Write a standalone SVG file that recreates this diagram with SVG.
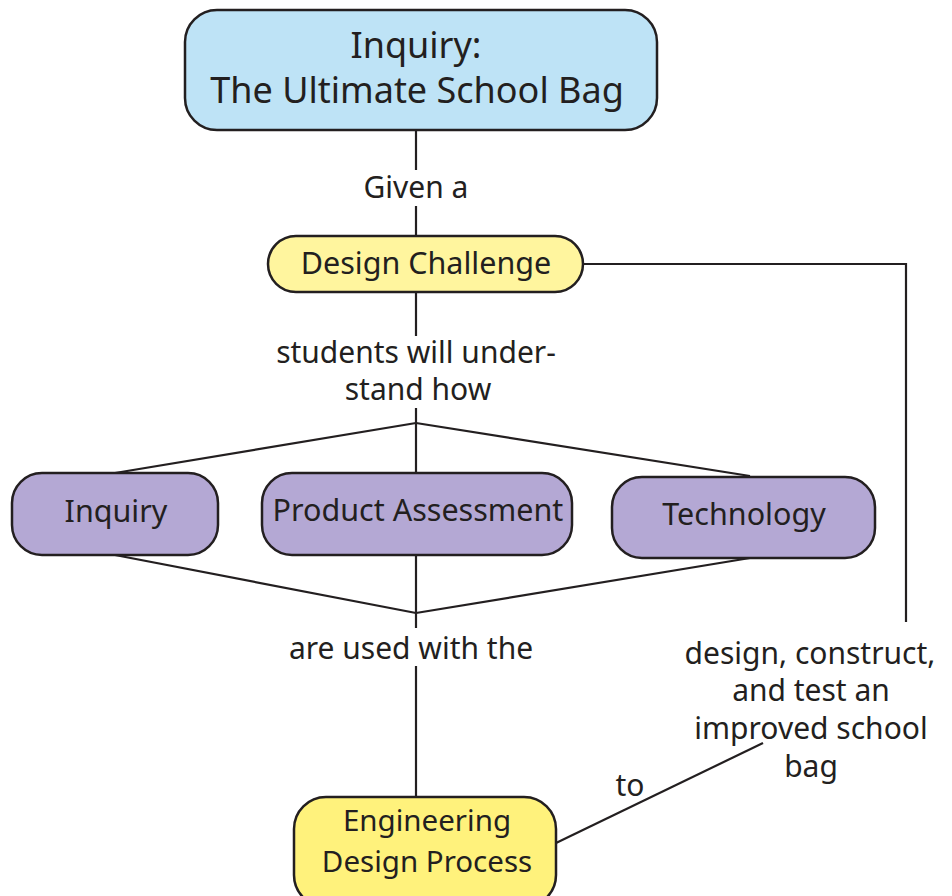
<svg xmlns="http://www.w3.org/2000/svg" width="952" height="896" viewBox="0 0 952 896">
<style>
.box{stroke:#231f20;stroke-width:2.5}
.ln{stroke:#231f20;stroke-width:2.2;fill:none}
text{font-family:"Noto Sans","Liberation Sans",sans-serif;fill:#231f20;text-anchor:middle}
.t{font-size:30.5px}
.l{font-size:30px}
</style>
<rect width="952" height="896" fill="#ffffff"/>
<g id="connectors">
<line class="ln" x1="416" y1="130" x2="416" y2="170"/>
<line class="ln" x1="416" y1="206" x2="416" y2="237"/>
<polyline class="ln" points="583,264 906,264 906,622"/>
<line class="ln" x1="416" y1="292" x2="416" y2="336"/>
<line class="ln" x1="416" y1="408" x2="416" y2="474"/>
<line class="ln" x1="416" y1="423" x2="115" y2="473"/>
<line class="ln" x1="416" y1="423" x2="750" y2="476"/>
<line class="ln" x1="115" y1="555" x2="416" y2="613"/>
<line class="ln" x1="750" y1="558" x2="416" y2="613"/>
<line class="ln" x1="416" y1="555" x2="416" y2="628"/>
<line class="ln" x1="416" y1="666" x2="416" y2="797"/>
<line class="ln" x1="556" y1="843" x2="763" y2="743"/>
<text class="l" x="416" y="198">Given a</text>
<text class="l" x="416" y="363">students will under-</text>
<text class="l" x="418" y="400">stand how</text>
<text class="l" x="411" y="659">are used with the</text>
<text class="l" x="630" y="796">to</text>
<text class="l" x="810" y="664">design, construct,</text>
<text class="l" x="811" y="701">and test an</text>
<text class="l" x="811" y="739">improved school</text>
<text class="l" x="811" y="777">bag</text>
</g>
<g id="node-inquiry-top">
<rect class="box" x="185" y="10" width="472" height="120" rx="32" fill="#bee3f6"/>
<text x="416" y="58" font-size="36">Inquiry:</text>
<text x="417" y="103" font-size="36">The Ultimate School Bag</text>
</g>
<g id="node-design-challenge">
<rect class="box" x="268" y="236" width="315" height="56" rx="28" fill="#fff59e"/>
<text class="t" x="426" y="274">Design Challenge</text>
</g>
<g id="node-inquiry">
<rect class="box" x="12" y="473" width="206" height="82" rx="30" fill="#b4a8d4"/>
<text class="t" x="116" y="522">Inquiry</text>
</g>
<g id="node-product-assessment">
<rect class="box" x="262" y="473" width="310" height="82" rx="30" fill="#b4a8d4"/>
<text class="t" x="418" y="521">Product Assessment</text>
</g>
<g id="node-technology">
<rect class="box" x="612" y="477" width="263" height="81" rx="30" fill="#b4a8d4"/>
<text class="t" x="744" y="525">Technology</text>
</g>
<g id="node-engineering">
<rect class="box" x="294" y="797" width="262" height="110" rx="32" fill="#fff27c"/>
<text x="427" y="831" font-size="29.5">Engineering</text>
<text x="427" y="872" font-size="29.5">Design Process</text>
</g>
</svg>
